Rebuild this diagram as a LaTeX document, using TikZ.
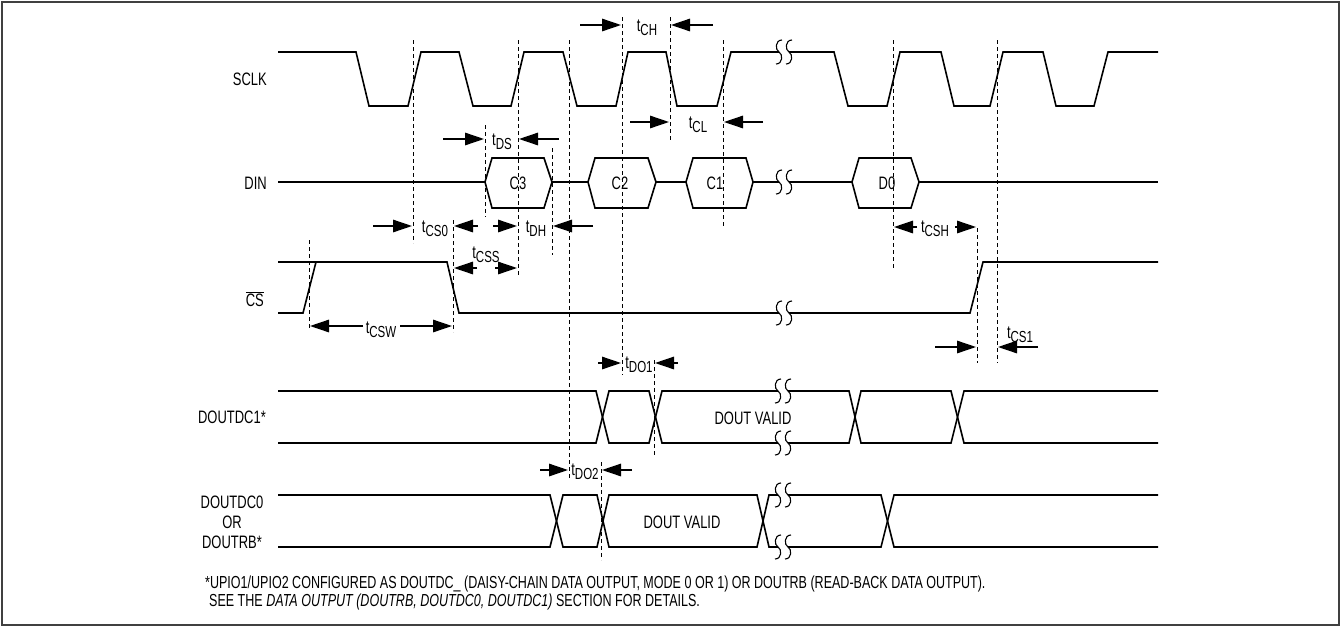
\documentclass[tikz,border=0pt]{standalone}
\usepackage{fontspec}
\setmainfont{Liberation Sans}[FakeStretch=0.72]
\usetikzlibrary{arrows.meta}
\newcommand{\tlbl}[1]{t\raisebox{-4pt}{\fontsize{16}{16}\selectfont #1}}
\begin{document}
\begin{tikzpicture}[x=1pt,y=-1pt,
  every node/.style={font=\fontsize{18}{20}\selectfont, inner sep=0pt},
  wave/.style={line width=1.6pt, line join=miter},
  dsh/.style={line width=0.9pt, dash pattern=on 4pt off 3pt},
  dim/.style={line width=1.4pt, -{Triangle[length=19pt,width=12.5pt]}},
  brk/.pic={
    \fill[white] (-5,-4) rectangle (5,4);
    \draw[line width=1.1pt] (-2,-12) .. controls (-9,-12) and (-9,-2) .. (-5,0) .. controls (-1,2) and (-1,12) .. (-8,12);
    \draw[line width=1.1pt] (8,-12) .. controls (1,-12) and (1,-2) .. (5,0) .. controls (9,2) and (9,12) .. (2,12);
  }]
\useasboundingbox (0,0) rectangle (1341,627);
\draw[line width=2pt, black!75] (2,2) rectangle (1339,625);

% signal names
\node[anchor=east] (nSCLK) at (267,79) {SCLK};
\node[anchor=east] (nDIN) at (267,183) {DIN};
\node[anchor=base east] (nCS) at (264,306) {$\overline{\hbox{CS}}$};
\node[anchor=east] (nDC1) at (266,417) {DOUTDC1*};
\node[align=center, font=\fontsize{18}{20}\selectfont] (nDC0) at (232,522) {DOUTDC0\\OR\\DOUTRB*};

% SCLK
\draw[wave] (278,52) -- (356,52) -- (369,106) -- (408,106) -- (421,52) -- (459,52) -- (473,106) -- (511,106) -- (524,52) -- (563,52) -- (577,106) -- (616,106) -- (628,52) -- (666,52) -- (677,106) -- (717,106) -- (731,52) -- (834,52) -- (848,106) -- (887,106) -- (900,52) -- (941,52) -- (954,106) -- (990,106) -- (1003,52) -- (1043,52) -- (1056,106) -- (1094,106) -- (1108,52) -- (1158,52);
\pic at (784,52) {brk};

% DIN
\draw[wave] (278,182) -- (485,182) -- (492,158) -- (544,158) -- (552,182) -- (544,208) -- (492,208) -- (485,182);
\draw[wave] (552,182) -- (588,182) -- (595,158) -- (648,158) -- (656,182) -- (648,208) -- (595,208) -- (588,182);
\draw[wave] (656,182) -- (686,182) -- (693,158) -- (746,158) -- (753,182) -- (746,208) -- (693,208) -- (686,182);
\draw[wave] (753,182) -- (852,182) -- (859,158) -- (911,158) -- (919,182) -- (911,208) -- (859,208) -- (852,182);
\draw[wave] (919,182) -- (1158,182);
\pic at (784,182) {brk};
\node (C3) at (518,183) {C3};
\node (C2) at (620,183) {C2};
\node (C1) at (715,183) {C1};
\node (D0) at (887,183) {D0};

% CS
\draw[wave] (278,262) -- (447,262) -- (459,313) -- (970,313) -- (983,262) -- (1158,262);
\draw[wave] (278,313) -- (303,313) -- (316,262);
\pic at (784,313) {brk};

% DOUTDC1
\draw[wave] (278,391) -- (596,391) -- (609,443) -- (649,443) -- (662,391) -- (849,391) -- (861,443) -- (951,443) -- (964,391) -- (1158,391);
\draw[wave] (278,443) -- (596,443) -- (609,391) -- (649,391) -- (662,443) -- (849,443) -- (861,391) -- (951,391) -- (964,443) -- (1158,443);
\pic at (783,391) {brk};
\pic at (783,443) {brk};
\node (V1) at (753,418) {DOUT VALID};

% DOUTDC0
\draw[wave] (278,495) -- (550,495) -- (563,547) -- (597,547) -- (609,495) -- (757,495) -- (769,547) -- (881,547) -- (894,495) -- (1158,495);
\draw[wave] (278,547) -- (550,547) -- (563,495) -- (597,495) -- (609,547) -- (757,547) -- (769,495) -- (881,495) -- (894,547) -- (1158,547);
\pic at (783,495) {brk};
\pic at (783,547) {brk};
\node (V0) at (682,522) {DOUT VALID};

% dashed reference lines
\draw[dsh] (413,40) -- (413,243);
\draw[dsh] (485,125) -- (485,217);
\draw[dsh] (518,40) -- (518,277);
\draw[dsh] (569,40) -- (569,478);
\draw[dsh] (622,17) -- (622,375);
\draw[dsh] (670,17) -- (670,140);
\draw[dsh] (723,40) -- (723,227);
\draw[dsh] (893,40) -- (893,270);
\draw[dsh] (997,40) -- (997,363);
\draw[dsh] (977,228) -- (977,363);
\draw[dsh] (552,148) -- (552,255);
\draw[dsh] (309,240) -- (309,330);
\draw[dsh] (453,220) -- (453,332);
\draw[dsh] (654,360) -- (654,457);
\draw[dsh] (601,462) -- (601,560);

% timing arrows
\draw[dim] (580,25) -- (621,25);  \draw[dim] (713,25) -- (671,25);
\draw[dim] (630,122) -- (669,122); \draw[dim] (763,122) -- (724,122);
\draw[dim] (443,139) -- (484,139); \draw[dim] (559,139) -- (519,139);
\draw[dim] (373,226) -- (412,226); \draw[dim] (478,226) -- (454,226);
\draw[dim] (493,226) -- (517,226); \draw[dim] (593,226) -- (553,226);
\draw[dim] (477,268) -- (454,268); \draw[dim] (495,268) -- (517,268);
\draw[dim] (917,227) -- (894,227); \draw[dim] (955,227) -- (976,227);
\draw[dim] (363,326) -- (310,326); \draw[dim] (400,326) -- (452,326);
\draw[dim] (935,347) -- (976,347); \draw[dim] (1038,347) -- (998,347);
\draw[dim] (598,363) -- (621,363); \draw[dim] (678,363) -- (655,363);
\draw[dim] (540,470) -- (568,470); \draw[dim] (632,470) -- (602,470);

% timing labels
\node[anchor=base] (tCH) at (647,31) {\tlbl{CH}};
\node[anchor=base] (tCL) at (698,128) {\tlbl{CL}};
\node[anchor=base] (tDS) at (502,145) {\tlbl{DS}};
\node[anchor=base] (tCS0) at (435,232) {\tlbl{CS0}};
\node[anchor=base] (tDH) at (536,232) {\tlbl{DH}};
\node[anchor=base] (tCSS) at (486,258) {\tlbl{CSS}};
\node[anchor=base] (tCSH) at (935,232) {\tlbl{CSH}};
\node[anchor=base] (tCSW) at (381,333) {\tlbl{CSW}};
\node[anchor=base] (tCS1) at (1020,338) {\tlbl{CS1}};
\node[anchor=base] (tDO1) at (639,368) {\tlbl{DO1}};
\node[anchor=base] (tDO2) at (585,475) {\tlbl{DO2}};

% footnote
\node[anchor=base west, font=\fontsize{17.4}{19}\selectfont] (fn1) at (205,588) {*UPIO1/UPIO2 CONFIGURED AS DOUTDC\_ (DAISY-CHAIN DATA OUTPUT, MODE 0 OR 1) OR DOUTRB (READ-BACK DATA OUTPUT).};
\node[anchor=base west, font=\fontsize{17.4}{19}\selectfont] (fn2) at (209,606) {SEE THE \textit{DATA OUTPUT (DOUTRB, DOUTDC0, DOUTDC1)} SECTION FOR DETAILS.};
\end{tikzpicture}
\end{document}
